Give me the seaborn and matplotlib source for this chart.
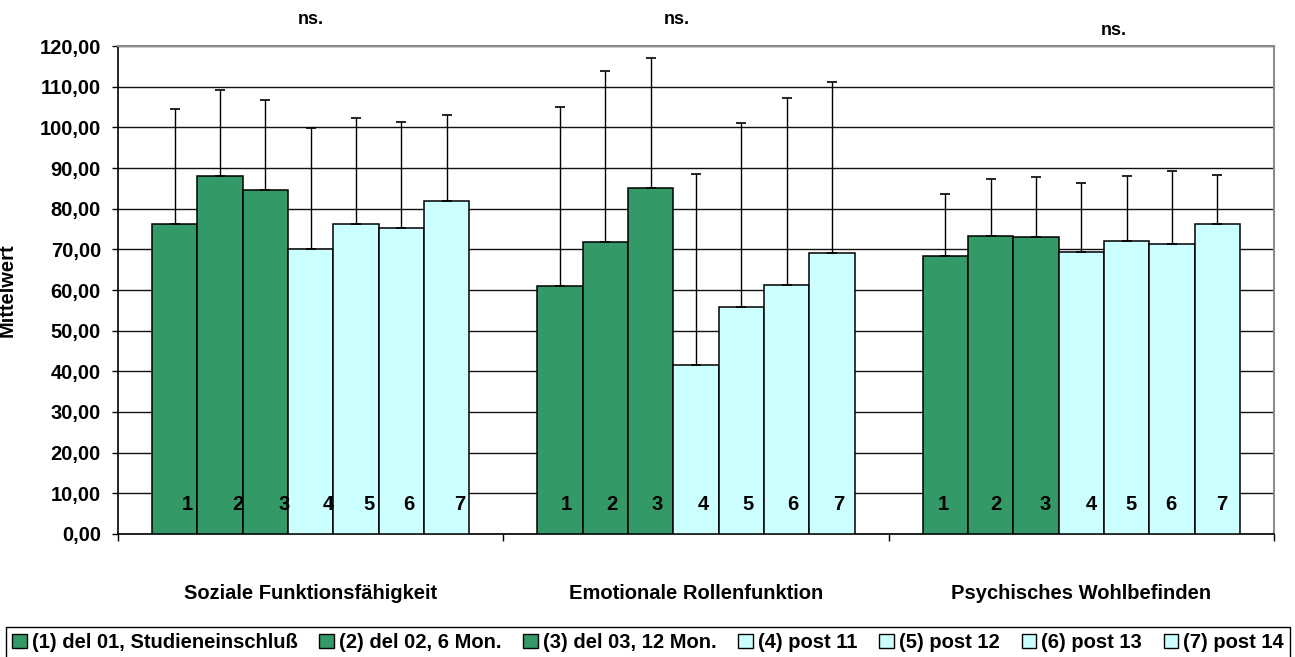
import seaborn as sns
import matplotlib.pyplot as plt
import pandas as pd
from matplotlib.patches import Patch
from matplotlib.ticker import FuncFormatter

# Werte
skalen = ["Soziale Funktionsfähigkeit", "Emotionale Rollenfunktion", "Psychisches Wohlbefinden"]
zeitpunkte = ["(1) del 01, Studieneinschluß", "(2) del 02, 6 Mon.", "(3) del 03, 12 Mon.",
              "(4) post 11", "(5) post 12", "(6) post 13", "(7) post 14"]
nummern = ["1", "2", "3", "4", "5", "6", "7"]

mw_sozial = [76.3, 88.0, 84.6, 70.0, 76.2, 75.2, 82.0]
mw_emotional = [61.0, 71.8, 85.2, 41.5, 55.8, 61.2, 69.2]
mw_psychisch = [68.4, 73.4, 73.0, 69.4, 72.1, 71.2, 76.3]

sd_sozial = [28.2, 21.1, 22.2, 29.9, 26.1, 26.0, 21.0]
sd_emotional = [44.0, 42.0, 31.9, 47.0, 45.2, 46.1, 42.0]
sd_psychisch = [15.1, 13.9, 14.8, 16.9, 16.0, 18.1, 12.0]

signif = ["ns.", "ns.", "ns."]

gruen = "#339966"
cyan = "#ccffff"
farben = [gruen] * 3 + [cyan] * 4

plt.rcParams['font.family'] = ['Liberation Sans', 'DejaVu Sans']
plt.rcParams['font.weight'] = 'bold'
fs = 14.5

rows = []
for skala, mw in zip(skalen, [mw_sozial, mw_emotional, mw_psychisch]):
    for zp, v in zip(zeitpunkte, mw):
        rows.append({"Skala": skala, "Zeitpunkt": zp, "Mittelwert": v})
df = pd.DataFrame(rows)
sds = [sd_sozial, sd_emotional, sd_psychisch]

fig = plt.figure(figsize=(12.95, 6.57), dpi=100)
ax = fig.add_axes([118 / 1295, 123 / 657, 1156 / 1295, 488 / 657])

sns.barplot(data=df, x="Skala", y="Mittelwert", hue="Zeitpunkt", order=skalen,
            hue_order=zeitpunkte, palette=farben, width=7 / 8.5, gap=0,
            edgecolor="black", linewidth=1.1, saturation=1, errorbar=None,
            legend=False, ax=ax, zorder=3)

bars = list(ax.containers)

# nur obere Fehlerbalken
for k, cont in enumerate(bars):
    xs = [b.get_x() + b.get_width() / 2 for b in cont]
    ys = [b.get_height() for b in cont]
    errs = [sds[j][k] for j in range(len(skalen))]
    ax.errorbar(xs, ys, yerr=[[0] * len(xs), errs], fmt="none", ecolor="black",
                elinewidth=1.0, capsize=3.6, capthick=1.2, zorder=4)

# Nummern in den Balken
nr_shift = [[0.27, 0.39, 0.41, 0.40, 0.28, 0.16, 0.28],
            [0.15, 0.15, 0.15, 0.16, 0.15, 0.14, 0.15],
            [-0.04, 0.11, 0.21, 0.22, 0.10, -0.02, 0.09]]
for k, cont in enumerate(bars):
    for j, b in enumerate(cont):
        w = b.get_width()
        ax.text(b.get_x() + w / 2 + nr_shift[j][k] * w, 7.2, nummern[k],
                ha="center", va="center", fontsize=fs, fontweight="bold", zorder=5)

# Signifikanz
ns_pos = [(0.0, 126.4), (0.95, 126.4), (2.085, 123.9)]
for s, (x, y) in zip(signif, ns_pos):
    ax.text(x, y, s, ha="center", va="center", fontsize=13, fontweight="bold", clip_on=False)

ax.set_ylim(0, 120)
ax.set_xlim(-0.5, 2.5)
ax.set_yticks(range(0, 121, 10))
ax.yaxis.set_major_formatter(FuncFormatter(lambda v, p: f"{v:.2f}".replace(".", ",")))
ax.tick_params(axis="y", labelsize=fs, length=4.3, width=1, pad=8, direction="out")
ax.yaxis.grid(True, color="#111111", linewidth=1.0)
ax.set_axisbelow(True)

ax.set_xticks([-0.5, 0.5, 1.5, 2.5])
ax.set_xticklabels([])
ax.tick_params(axis="x", which="major", length=5, width=1, direction="out")
ax.set_xticks([0, 1, 2], minor=True)
ax.set_xticklabels(skalen, minor=True, fontsize=fs, fontweight="bold")
ax.tick_params(axis="x", which="minor", length=0, pad=36)

ax.set_xlabel("")
ax.set_ylabel("Mittelwert", fontsize=fs, fontweight="bold")
ax.yaxis.set_label_coords(-(118 - 17) / 1156, 0.5)

for s in ["left", "bottom"]:
    ax.spines[s].set_color("black")
    ax.spines[s].set_linewidth(1.2)
for s in ["top", "right"]:
    ax.spines[s].set_color("#8c8c8c")
    ax.spines[s].set_linewidth(1.5)

handles = [Patch(facecolor=c, edgecolor="black", linewidth=1) for c in farben]
leg = fig.legend(handles, zeitpunkte, loc="lower left", ncol=7, mode="expand",
                 bbox_to_anchor=(6 / 1295, -1 / 657, 1284 / 1295, 0.05),
                 fontsize=fs, frameon=True, fancybox=False, edgecolor="black",
                 framealpha=1, handlelength=0.72, handleheight=0.72,
                 handletextpad=0.25, borderpad=0.3, borderaxespad=0)
leg.get_frame().set_linewidth(1.0)

fig.savefig("out.png", dpi=100)
